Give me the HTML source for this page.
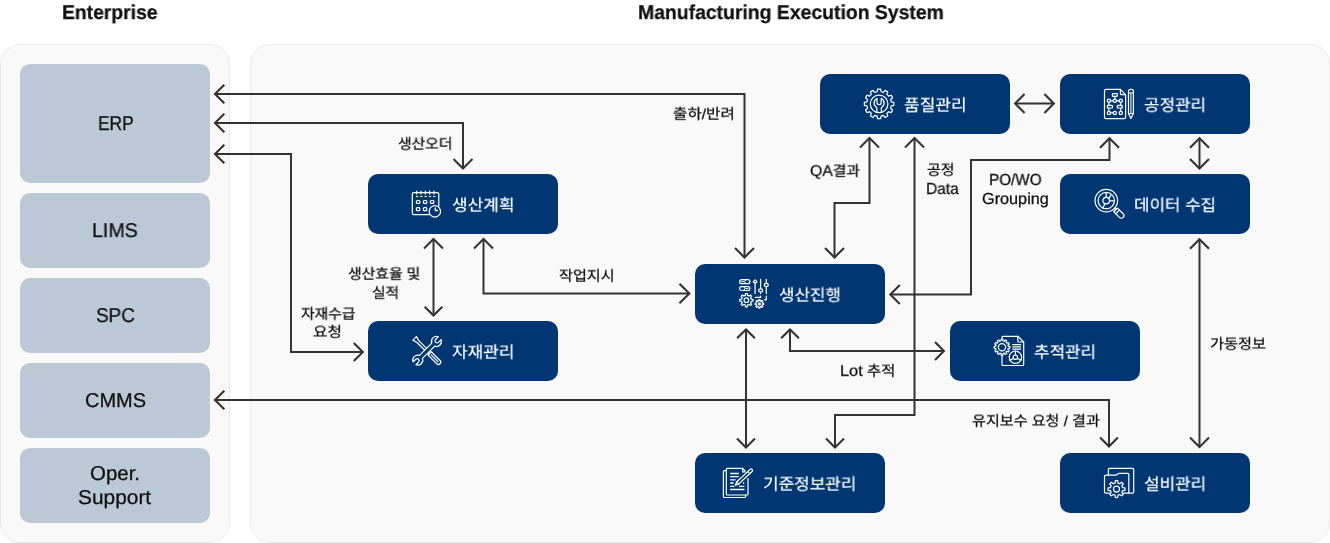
<!DOCTYPE html>
<html lang="ko">
<head>
<meta charset="utf-8">
<title>Manufacturing Execution System</title>
<style>
*{box-sizing:border-box;margin:0;padding:0}
html,body{width:1330px;height:543px;background:#fff;overflow:hidden}
body{position:relative;font-family:"Liberation Sans","Noto Sans CJK KR",sans-serif;color:#111}
.panel{position:absolute;top:44px;height:499px;background:#f9f9f9;border:1px solid #ebebeb;border-radius:20px}
.ent{position:absolute;left:20px;width:190px;background:#bbc8d5;border-radius:10px}
.mod{position:absolute;width:190px;height:60px;background:#003672;border-radius:10px}
.t{position:absolute;white-space:pre;line-height:1;transform-origin:0 50%;text-rendering:geometricPrecision;will-change:transform;color:#111;-webkit-text-stroke:0.28px currentColor}
#gfx{position:absolute;left:0;top:0}
</style>
</head>
<body>
<div class="panel" style="left:0;width:230px"></div>
<div class="panel" style="left:250px;width:1080px"></div>

<div class="ent" style="top:64px;height:119px"></div>
<div class="ent" style="top:193px;height:75px"></div>
<div class="ent" style="top:278px;height:75px"></div>
<div class="ent" style="top:363px;height:75px"></div>
<div class="ent" style="top:448px;height:75px"></div>

<div class="mod" style="left:368px;top:174px"></div>
<div class="mod" style="left:368px;top:321px"></div>
<div class="mod" style="left:695px;top:264px"></div>
<div class="mod" style="left:695px;top:453px"></div>
<div class="mod" style="left:820px;top:74px"></div>
<div class="mod" style="left:950px;top:321px"></div>
<div class="mod" style="left:1060px;top:74px"></div>
<div class="mod" style="left:1060px;top:174px"></div>
<div class="mod" style="left:1060px;top:453px"></div>

<svg id="gfx" width="1330" height="543" viewBox="0 0 1330 543" fill="none">
<g stroke="#333" stroke-width="2.0" stroke-linejoin="miter" stroke-linecap="butt">
<path d="M215 94L744.5 94L744.5 257.4"/><path stroke-width="2.1" d="M224.3 84.7L215 94L224.3 103.3M735 247.9L744.5 257.4L754 247.9"/>
<path d="M215 123L463 123L463 168.6"/><path stroke-width="2.1" d="M224.3 113.7L215 123L224.3 132.3M453.5 159.1L463 168.6L472.5 159.1"/>
<path d="M215 154L291 154L291 352L362.9 352"/><path stroke-width="2.1" d="M224.3 144.7L215 154L224.3 163.3M353.8 361.1L362.9 352L353.8 342.9"/>
<path d="M433.5 238.9L433.5 315.5"/><path stroke-width="2.1" d="M443 248.4L433.5 238.9L424 248.4M424.7 306.7L433.5 315.5L442.3 306.7"/>
<path d="M483.5 238.9L483.5 293.5L689.3 293.5"/><path stroke-width="2.1" d="M493 248.4L483.5 238.9L474 248.4M679.5 303.3L689.3 293.5L679.5 283.7"/>
<path d="M215 400L1109 400L1109 446.4"/><path stroke-width="2.1" d="M224.3 390.7L215 400L224.3 409.3M1100.1 437.5L1109 446.4L1117.9 437.5"/>
<path d="M869.5 138.1L869.5 203L834.5 203L834.5 257.4"/><path stroke-width="2.1" d="M879 147.6L869.5 138.1L860 147.6M825 247.9L834.5 257.4L844 247.9"/>
<path d="M914.5 138.1L914.5 415L835 415L835 447.6"/><path stroke-width="2.1" d="M924 147.6L914.5 138.1L905 147.6M826 438.6L835 447.6L844 438.6"/>
<path d="M1109.5 138.2L1109.5 160L971 160L971 294.5L890.3 294.5"/><path stroke-width="2.1" d="M1119 147.7L1109.5 138.2L1100 147.7M899.8 285L890.3 294.5L899.8 304"/>
<path d="M1015.1 103.5L1053.9 103.5"/><path stroke-width="2.1" d="M1024.6 94L1015.1 103.5L1024.6 113M1044.4 113L1053.9 103.5L1044.4 94"/>
<path d="M1199.5 138.2L1199.5 168.6"/><path stroke-width="2.1" d="M1209 147.7L1199.5 138.2L1190 147.7M1190 159.1L1199.5 168.6L1209 159.1"/>
<path d="M1199.5 239.2L1199.5 446.9"/><path stroke-width="2.1" d="M1209 248.7L1199.5 239.2L1190 248.7M1190 437.4L1199.5 446.9L1209 437.4"/>
<path d="M746 329.4L746 447.6"/><path stroke-width="2.1" d="M754.9 338.3L746 329.4L737.1 338.3M737 438.6L746 447.6L755 438.6"/>
<path d="M790 329.4L790 351L943.9 351"/><path stroke-width="2.1" d="M798.9 338.3L790 329.4L781.1 338.3M935 359.9L943.9 351L935 342.1"/>
</g>
<g stroke="#fff" stroke-width="1.2" stroke-linecap="round" stroke-linejoin="round">
<g transform="translate(411.7 189)"><path d="M17.4 25.6H2.1a1.5 1.5 0 0 1-1.5-1.5V5.1a1.5 1.5 0 0 1 1.5-1.5h23.5a1.5 1.5 0 0 1 1.5 1.5v12.2"/><path d="M5 2v2.9"/><path d="M9.3 2v2.9"/><path d="M13.6 2v2.9"/><path d="M17.9 2v2.9"/><path d="M22.3 2v2.9"/><path d="M4.3 7.5h19.4" stroke-dasharray="2.2 2.1" stroke-linecap="butt"/><rect x="4.7" y="11.5" width="3.4" height="2.9" rx="0.9"/><rect x="11.7" y="11.5" width="3.4" height="2.9" rx="0.9"/><rect x="18.7" y="11.5" width="3.4" height="2.9" rx="0.9"/><rect x="4.7" y="18.7" width="3.4" height="2.9" rx="0.9"/><rect x="11.7" y="18.7" width="3.4" height="2.9" rx="0.9"/><circle cx="23.15" cy="22.4" r="5.7"/><path d="M23.6 19v2.5h2.2" stroke-width="1.35"/></g>
<g transform="translate(412 336)"><g transform="translate(15.1 14.8) rotate(45)"><path d="M-17.6 -2.5L-17.6 2.5L-13 1.3L1 1.3M-17.6 -2.5L-13 -1.3L1 -1.3"/><path d="M3.6 -1.3H2M3.6 1.3H2"/><path d="M3.6 -2.3H16a2.3 2.3 0 0 1 0 4.6H3.6Z"/><path d="M5.8 0H15.4"/></g><g transform="translate(15.1 14.8) rotate(-45)"><path d="M-8.66 -2.1L8.66 -2.1A5.0 5.0 0 0 1 17.78 -2L14 -2A2.0 2.0 0 0 0 14 2L17.78 2A5.0 5.0 0 0 1 8.66 2.1L-8.66 2.1A5.0 5.0 0 0 1 -17.78 2L-14 2A2.0 2.0 0 0 0 -14 -2L-17.78 -2A5.0 5.0 0 0 1 -8.66 -2.1Z" fill="#003672"/></g></g>
<g transform="translate(739 279)"><rect x="0.6" y="0.7" width="10.3" height="3.9" rx="1.95"/><path d="M7 0.8A1.95 1.95 0 0 0 7 4.5M2.6 2.65h2" stroke-width="1"/><rect x="0.6" y="7.6" width="10.3" height="3.9" rx="1.95"/><path d="M4.5 7.7A1.95 1.95 0 0 1 4.5 11.4M6.9 9.55h2" stroke-width="1"/><path d="M16.1 0.9v0.6M16.1 4.4v10.2"/><path d="M16.1 1.1l1.9 1.6l-1.9 1.7l-1.9 -1.7z"/><path d="M21.6 0.3v9.4M21.6 13v1.6"/><ellipse cx="21.6" cy="11.4" rx="2" ry="1.6"/><path d="M27.3 0.3v3.9M27.3 7.6v7"/><ellipse cx="27.3" cy="5.9" rx="2" ry="1.6"/><path d="M16.3 18.4h5.3v-1.2"/><path d="M27.3 17.2v3.6h-1.9"/><path d="M6.33 16.42L6.51 14.56A6.7 6.7 0 0 1 8.29 14.56L8.47 16.42A4.9 4.9 0 0 1 10.03 17.06L11.46 15.87A6.7 6.7 0 0 1 12.73 17.14L11.54 18.57A4.9 4.9 0 0 1 12.18 20.13L14.04 20.31A6.7 6.7 0 0 1 14.04 22.09L12.18 22.27A4.9 4.9 0 0 1 11.54 23.83L12.73 25.26A6.7 6.7 0 0 1 11.46 26.53L10.03 25.34A4.9 4.9 0 0 1 8.47 25.98L8.29 27.84A6.7 6.7 0 0 1 6.51 27.84L6.33 25.98A4.9 4.9 0 0 1 4.77 25.34L3.34 26.53A6.7 6.7 0 0 1 2.07 25.26L3.26 23.83A4.9 4.9 0 0 1 2.62 22.27L0.76 22.09A6.7 6.7 0 0 1 0.76 20.31L2.62 20.13A4.9 4.9 0 0 1 3.26 18.57L2.07 17.14A6.7 6.7 0 0 1 3.34 15.87L4.77 17.06A4.9 4.9 0 0 1 6.33 16.42Z"/><circle cx="7.4" cy="21.2" r="2.3"/><path d="M19.72 21.87L19.83 20.64A4.3 4.3 0 0 1 20.97 20.64L21.08 21.87A3.1 3.1 0 0 1 22.06 22.28L23.01 21.48A4.3 4.3 0 0 1 23.82 22.29L23.02 23.24A3.1 3.1 0 0 1 23.43 24.22L24.66 24.33A4.3 4.3 0 0 1 24.66 25.47L23.43 25.58A3.1 3.1 0 0 1 23.02 26.56L23.82 27.51A4.3 4.3 0 0 1 23.01 28.32L22.06 27.52A3.1 3.1 0 0 1 21.08 27.93L20.97 29.16A4.3 4.3 0 0 1 19.83 29.16L19.72 27.93A3.1 3.1 0 0 1 18.74 27.52L17.79 28.32A4.3 4.3 0 0 1 16.98 27.51L17.78 26.56A3.1 3.1 0 0 1 17.37 25.58L16.14 25.47A4.3 4.3 0 0 1 16.14 24.33L17.37 24.22A3.1 3.1 0 0 1 17.78 23.24L16.98 22.29A4.3 4.3 0 0 1 17.79 21.48L18.74 22.28A3.1 3.1 0 0 1 19.72 21.87Z"/><circle cx="20.4" cy="24.9" r="1"/></g>
<g transform="translate(723 468)"><path d="M25 10.5V26a1 1 0 0 1-1 1H4.3a1 1 0 0 1-1-1V1.3a1 1 0 0 1 1-1H19.6l2.6 2.6"/><path d="M19.6 0.5v3.4h2.4"/><path d="M3.3 2.6H1.4a1 1 0 0 0-1 1V28.5a1 1 0 0 0 1 1H21.6a1 1 0 0 0 1-1V27"/><path d="M7.2 5.5h8.6M7.2 8.7h8.6M7.2 11.8h5.4M7.2 15h3.4M7.2 18.3h4.2M16 18.3h5.4M7.2 21.5h14.2M20 15h1.2" stroke-linecap="butt" stroke-width="1.3"/><g transform="translate(12.3 17.2) rotate(-43)"><path d="M0 0L3.2 -1.45H21.6a1.45 1.45 0 0 1 0 2.9H3.2Z" fill="#003672"/><path d="M3.2 -1.45V1.45M18.4 -1.45V1.45"/></g></g>
<g transform="translate(864 89)"><path d="M13.11 2.76L13.55 0.18A14.8 14.8 0 0 1 16.65 0.18L17.09 2.76A12.3 12.3 0 0 1 19.45 3.39L21.12 1.38A14.8 14.8 0 0 1 23.8 2.93L22.89 5.38A12.3 12.3 0 0 1 24.62 7.11L27.07 6.2A14.8 14.8 0 0 1 28.62 8.88L26.61 10.55A12.3 12.3 0 0 1 27.24 12.91L29.82 13.35A14.8 14.8 0 0 1 29.82 16.45L27.24 16.89A12.3 12.3 0 0 1 26.61 19.25L28.62 20.92A14.8 14.8 0 0 1 27.07 23.6L24.62 22.69A12.3 12.3 0 0 1 22.89 24.42L23.8 26.87A14.8 14.8 0 0 1 21.12 28.42L19.45 26.41A12.3 12.3 0 0 1 17.09 27.04L16.65 29.62A14.8 14.8 0 0 1 13.55 29.62L13.11 27.04A12.3 12.3 0 0 1 10.75 26.41L9.08 28.42A14.8 14.8 0 0 1 6.4 26.87L7.31 24.42A12.3 12.3 0 0 1 5.58 22.69L3.13 23.6A14.8 14.8 0 0 1 1.58 20.92L3.59 19.25A12.3 12.3 0 0 1 2.96 16.89L0.38 16.45A14.8 14.8 0 0 1 0.38 13.35L2.96 12.91A12.3 12.3 0 0 1 3.59 10.55L1.58 8.88A14.8 14.8 0 0 1 3.13 6.2L5.58 7.11A12.3 12.3 0 0 1 7.31 5.38L6.4 2.93A14.8 14.8 0 0 1 9.08 1.38L10.75 3.39A12.3 12.3 0 0 1 13.11 2.76Z"/><circle cx="15.1" cy="14.9" r="8.8"/><path d="M12.8 23.3V18.44A5 5 0 0 1 13 9.46V13.5A2.1 2.1 0 0 0 17.2 13.5V9.46A5 5 0 0 1 17.4 18.44V23.3"/></g>
<g transform="translate(994 336)"><path d="M8 3.6V1.3a1 1 0 0 1 1-1H23.8L29.7 6V28.5a1 1 0 0 1-1 1H9a1 1 0 0 1-1-1V19"/><path d="M23.8 0.4V5a1 1 0 0 0 1 1h4.8"/><path d="M6.92 4.99L7.13 3.35A7.9 7.9 0 0 1 8.87 3.35L9.08 4.99A6.3 6.3 0 0 1 10.17 5.28L11.18 3.97A7.9 7.9 0 0 1 12.68 4.83L12.04 6.37A6.3 6.3 0 0 1 12.83 7.16L14.37 6.52A7.9 7.9 0 0 1 15.23 8.02L13.92 9.03A6.3 6.3 0 0 1 14.21 10.12L15.85 10.33A7.9 7.9 0 0 1 15.85 12.07L14.21 12.28A6.3 6.3 0 0 1 13.92 13.37L15.23 14.38A7.9 7.9 0 0 1 14.37 15.88L12.83 15.24A6.3 6.3 0 0 1 12.04 16.03L12.68 17.57A7.9 7.9 0 0 1 11.18 18.43L10.17 17.12A6.3 6.3 0 0 1 9.08 17.41L8.87 19.05A7.9 7.9 0 0 1 7.13 19.05L6.92 17.41A6.3 6.3 0 0 1 5.83 17.12L4.82 18.43A7.9 7.9 0 0 1 3.32 17.57L3.96 16.03A6.3 6.3 0 0 1 3.17 15.24L1.63 15.88A7.9 7.9 0 0 1 0.77 14.38L2.08 13.37A6.3 6.3 0 0 1 1.79 12.28L0.15 12.07A7.9 7.9 0 0 1 0.15 10.33L1.79 10.12A6.3 6.3 0 0 1 2.08 9.03L0.77 8.02A7.9 7.9 0 0 1 1.63 6.52L3.17 7.16A6.3 6.3 0 0 1 3.96 6.37L3.32 4.83A7.9 7.9 0 0 1 4.82 3.97L5.83 5.28A6.3 6.3 0 0 1 6.92 4.99Z"/><circle cx="8" cy="11.2" r="3.6"/><path d="M18.3 8.7h8.8M18.3 10.9h8.8M18.3 13.1h8.8" stroke-linecap="butt" stroke-width="1.2"/><circle cx="21.4" cy="21.2" r="6.2"/><circle cx="21.4" cy="21.2" r="2.2"/><path d="M21.4 19V15M23.3 22.3l3.5 2M19.5 22.3l-3.5 2"/></g>
<g transform="translate(1104 89)"><path d="M21.6 5.8V28.2a1.4 1.4 0 0 1-1.4 1.4H1.9a1.4 1.4 0 0 1-1.4-1.4V1.7a1.4 1.4 0 0 1 1.4-1.4H16.4Z"/><path d="M16.4 0.4V4.6a1 1 0 0 0 1 1h4.1"/><rect x="8.4" y="4.6" width="4.9" height="2.8" rx="0.6"/><path d="M10.85 7.4V10.2"/><circle cx="4.9" cy="11.8" r="1.6"/><circle cx="10.85" cy="11.8" r="1.6"/><circle cx="16.8" cy="11.8" r="1.6"/><path d="M6.5 11.8H9.25M12.45 11.8H15.2M4.9 13.4V16.4M16.8 13.4V16.4"/><rect x="3.4" y="16.4" width="5" height="2.6" rx="0.6"/><rect x="13.3" y="16.4" width="5" height="2.6" rx="0.6"/><path d="M4.9 19V22.3M16.8 19V22.3M6.5 23.9H9.25"/><circle cx="4.9" cy="23.9" r="1.6"/><circle cx="10.85" cy="23.9" r="1.6"/><circle cx="16.8" cy="23.9" r="1.6"/><path d="M24.5 24.6V2.2A1.9 1.9 0 0 1 26.4 0.3H27.5A1.9 1.9 0 0 1 29.4 2.2V24.6L26.95 29.5Z"/><path d="M24.5 4H29.4M24.5 24.6H29.4M26.95 4V24.6" stroke-width="1"/></g>
<g transform="translate(1094.5 189)"><circle cx="11.8" cy="11.6" r="11.3"/><circle cx="11.8" cy="11.6" r="8.2"/><circle cx="11.7" cy="11.6" r="3.3"/><path d="M11.7 8.3V3.5M14.2 9.4L16.6 6.2M15 11.9H20M10.4 14.6L8.3 19.4"/><g transform="translate(11.8 11.6) rotate(45)"><path d="M11.3 -1.2H13.2M11.3 1.2H13.2"/><path d="M13.2 -2.6H21.2A2.6 2.6 0 0 1 21.2 2.6H13.2Z"/><path d="M16 -2.6V2.6"/></g></g>
<g transform="translate(1104 468)"><path d="M4.4 7.2V1.4a1 1 0 0 1 1-1H28.7a1 1 0 0 1 1 1V24.1a1.1 1.1 0 0 1-1.1 1.1H24.8"/><path d="M5.3 25.2H1.9A1.4 1.4 0 0 1 .5 23.8V8.6A1.4 1.4 0 0 1 1.9 7.2H11.6a1.6 1.6 0 0 0 1-.4L14.6 5.6a1.6 1.6 0 0 1 1-.3H23.9a.9 .9 0 0 1 .9 .9V25.2H19.6"/><path d="M11.05 15.07L11.3 12.68A8.5 8.5 0 0 1 13.7 12.68L13.95 15.07A6.2 6.2 0 0 1 15.74 15.81L17.6 14.3A8.5 8.5 0 0 1 19.3 16L17.79 17.86A6.2 6.2 0 0 1 18.53 19.65L20.92 19.9A8.5 8.5 0 0 1 20.92 22.3L18.53 22.55A6.2 6.2 0 0 1 17.79 24.34L19.3 26.2A8.5 8.5 0 0 1 17.6 27.9L15.74 26.39A6.2 6.2 0 0 1 13.95 27.13L13.7 29.52A8.5 8.5 0 0 1 11.3 29.52L11.05 27.13A6.2 6.2 0 0 1 9.26 26.39L7.4 27.9A8.5 8.5 0 0 1 5.7 26.2L7.21 24.34A6.2 6.2 0 0 1 6.47 22.55L4.08 22.3A8.5 8.5 0 0 1 4.08 19.9L6.47 19.65A6.2 6.2 0 0 1 7.21 17.86L5.7 16A8.5 8.5 0 0 1 7.4 14.3L9.26 15.81A6.2 6.2 0 0 1 11.05 15.07Z"/><circle cx="12.5" cy="21.1" r="3"/></g>
</g>
</svg>

<span class="t" style="left:61.94px;top:2.6px;font-size:20px;font-weight:700;transform:scaleX(0.966);">Enterprise</span>
<span class="t" style="left:638.44px;top:2.6px;font-size:20px;font-weight:700;transform:scaleX(0.969);">Manufacturing Execution System</span>
<span class="t" style="left:97.68px;top:114px;font-size:20px;transform:scaleX(0.869);">ERP</span>
<span class="t" style="left:91.85px;top:221px;font-size:20px;transform:scaleX(0.983);">LIMS</span>
<span class="t" style="left:96.46px;top:306px;font-size:20px;transform:scaleX(0.945);">SPC</span>
<span class="t" style="left:85.2px;top:391px;font-size:20px;">CMMS</span>
<span class="t" style="left:89.9px;top:463.9px;font-size:20px;transform:scaleX(1.022);">Oper.</span>
<span class="t" style="left:78.23px;top:487.9px;font-size:20px;transform:scaleX(1.044);">Support</span>
<span class="t" style="left:452.02px;top:196.8px;font-size:17px;color:#fff;-webkit-text-stroke-width:0.18px;transform:scale(0.997,0.95);">생산계획</span>
<span class="t" style="left:452.17px;top:343.8px;font-size:17px;color:#fff;-webkit-text-stroke-width:0.18px;transform:scale(0.995,0.95);">자재관리</span>
<span class="t" style="left:779.25px;top:286.8px;font-size:17px;color:#fff;-webkit-text-stroke-width:0.18px;transform:scale(0.989,0.95);">생산진행</span>
<span class="t" style="left:762.75px;top:475.8px;font-size:17px;color:#fff;-webkit-text-stroke-width:0.18px;transform:scale(0.994,0.95);">기준정보관리</span>
<span class="t" style="left:903.76px;top:96.8px;font-size:17px;color:#fff;-webkit-text-stroke-width:0.18px;transform:scale(0.999,0.95);">품질관리</span>
<span class="t" style="left:1033.82px;top:343.8px;font-size:17px;color:#fff;-webkit-text-stroke-width:0.18px;transform:scale(0.989,0.95);">추적관리</span>
<span class="t" style="left:1144.35px;top:96.8px;font-size:17px;color:#fff;-webkit-text-stroke-width:0.18px;transform:scale(0.989,0.95);">공정관리</span>
<span class="t" style="left:1133.8px;top:196.8px;font-size:17px;color:#fff;-webkit-text-stroke-width:0.18px;transform:scale(0.989,0.95);">데이터 수집</span>
<span class="t" style="left:1143.86px;top:475.8px;font-size:17px;color:#fff;-webkit-text-stroke-width:0.18px;transform:scale(0.991,0.95);">설비관리</span>
<span class="t" style="left:397.5px;top:136.55px;font-size:15px;transform:scale(0.985,0.95);">생산오더</span>
<span class="t" style="left:673.35px;top:107.32px;font-size:15px;transform:scale(1.040,0.95);">출하/반려</span>
<span class="t" style="left:347.8px;top:267.49px;font-size:15px;transform:scale(0.989,0.95);">생산효율 및</span>
<span class="t" style="left:371.99px;top:285.58px;font-size:15px;transform:scale(0.981,0.95);">실적</span>
<span class="t" style="left:300.58px;top:307.47px;font-size:15px;transform:scale(0.985,0.95);">자재수급</span>
<span class="t" style="left:313.11px;top:325.06px;font-size:15px;transform:scale(1.047,0.95);">요청</span>
<span class="t" style="left:559.26px;top:269.42px;font-size:15px;transform:scale(1.007,0.95);">작업지시</span>
<span class="t" style="left:809.52px;top:163.7px;font-size:15px;transform:scale(0.982,0.95);"><span style="font-size:16px">QA</span>결과</span>
<span class="t" style="left:927.36px;top:162.82px;font-size:15px;transform:scale(0.998,0.95);">공정</span>
<span class="t" style="left:925.51px;top:181.89px;font-size:16px;transform:scaleX(0.967);">Data</span>
<span class="t" style="left:988.74px;top:172.83px;font-size:16px;transform:scaleX(0.953);">PO/WO</span>
<span class="t" style="left:982.29px;top:191.5px;font-size:16px;transform:scaleX(1.015);">Grouping</span>
<span class="t" style="left:840.45px;top:364.34px;font-size:15px;transform:scale(1.023,0.95);"><span style="font-size:16px">Lot</span> 추적</span>
<span class="t" style="left:971.9px;top:414.25px;font-size:15px;transform:scale(1.006,0.95);">유지보수 요청 / 결과</span>
<span class="t" style="left:1210.29px;top:336.79px;font-size:15px;transform:scale(1.014,0.95);">가동정보</span>
</body>
</html>
